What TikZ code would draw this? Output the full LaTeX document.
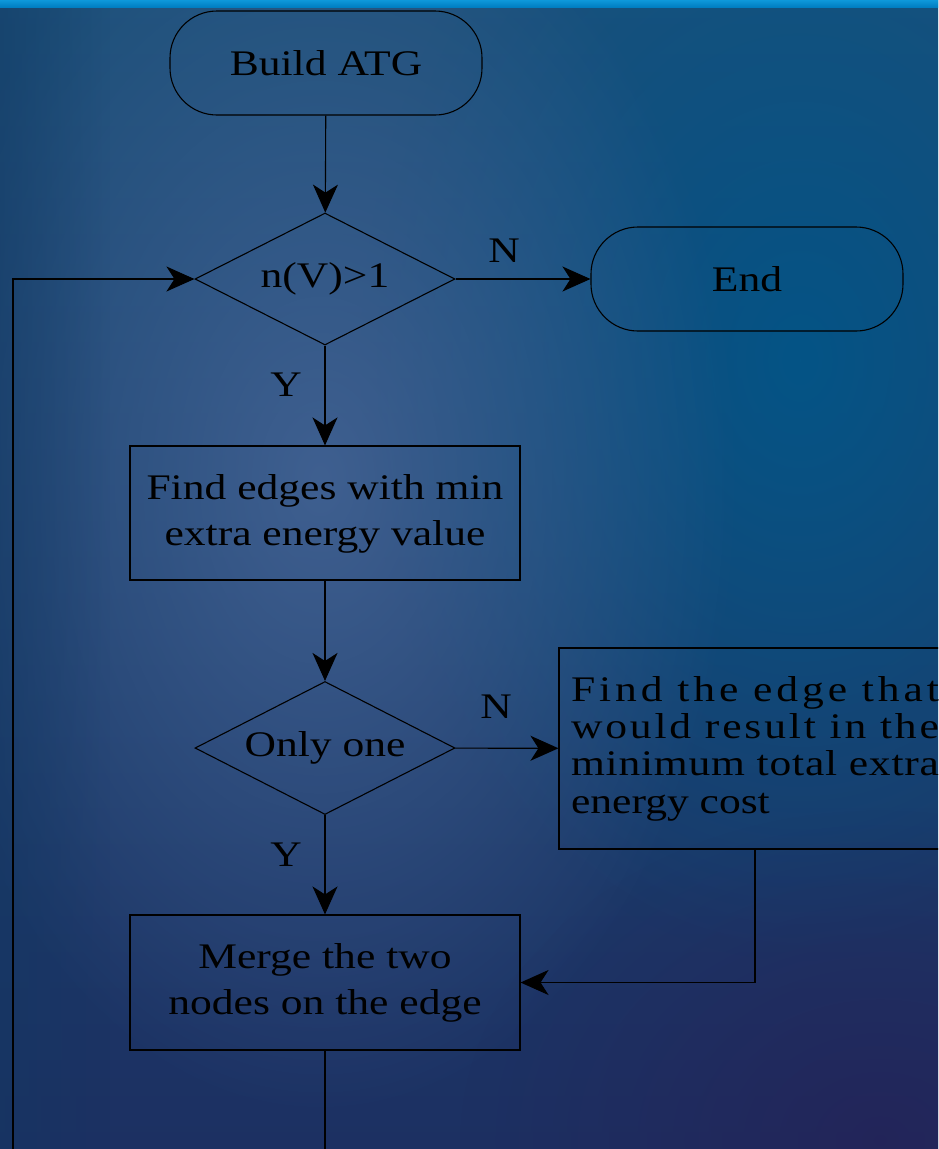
\documentclass[tikz,border=0pt]{standalone}
\usepackage{fontspec}
\setmainfont{Liberation Serif}
\usepackage{graphicx}
\usetikzlibrary{shapes.geometric,arrows.meta,fadings}

% background colours
\definecolor{barA}{RGB}{0,126,194}
\definecolor{barB}{RGB}{14,152,218}
\definecolor{bgTop}{RGB}{28,80,122}
\definecolor{bgBot}{RGB}{28,48,98}
\definecolor{glow}{RGB}{78,108,158}
\definecolor{tealish}{RGB}{4,84,134}
\definecolor{violet}{RGB}{38,32,86}
\definecolor{edgeDark}{RGB}{18,56,98}

\tikzfading[name=soft, inner color=transparent!0, outer color=transparent!100]
\tikzfading[name=softer, inner color=transparent!30, outer color=transparent!100]
\tikzfading[name=leftdark, left color=transparent!55, right color=transparent!100]

% horizontally widened text and letter gap for spread lines
\newcommand\sx[1]{\scalebox{1.21}[1]{#1}}
\newcommand\lsp{\hfil}

\tikzset{
  wire/.style={draw=black, line width=1.1pt},
  arr/.style={wire, -{Stealth[length=28pt,width=25pt,inset=8pt]}},
  term/.style={wire, rectangle, rounded corners=47pt, minimum width=312pt, minimum height=104pt, inner sep=0pt},
  decision/.style={wire, diamond, shape aspect=1.97, minimum width=260pt, minimum height=132pt, inner sep=0pt},
  process/.style={wire, rectangle, minimum width=390pt, minimum height=134pt, inner sep=0pt},
  lbl/.style={inner sep=0pt},
}

\begin{document}
\begin{tikzpicture}[x=1pt, y=-1pt, font=\fontsize{36}{46}\selectfont]
  \useasboundingbox (0,0) rectangle (938,1149);
  \clip (0,0) rectangle (938,1149);

  % backdrop
  \shade[top color=bgTop, bottom color=bgBot] (0,0) rectangle (938,1149);
  \fill[tealish, path fading=soft] (800,360) ellipse [x radius=440, y radius=600];
  \fill[glow, path fading=softer] (320,480) ellipse [x radius=420, y radius=640];
  \fill[violet, path fading=softer] (880,1140) ellipse [x radius=420, y radius=330];
  \fill[edgeDark, path fading=leftdark] (0,0) rectangle (110,1149);
  \shade[top color=barB, bottom color=barA] (0,0) rectangle (938,7);

  % shapes
  \node[term] (start) at (326,63) {\sx{Build ATG}};
  \node[decision] (d1) at (325,279) {\sx{n(V)>1}};
  \node[term] (stop) at (747,279) {\sx{End}};
  \node[process] (b1) at (325,513) {\sx{\begin{tabular}{@{}c@{}}Find edges with min\\extra energy value\end{tabular}}};
  \node[decision, minimum height=133pt] (d2) at (325,748) {\sx{Only one}};
  \node[process, minimum width=392pt, minimum height=201pt] (b3) at (755,748.5) {\sx{\parbox{304pt}{\fontsize{36}{37.3}\selectfont
    \makebox[304pt][s]{F\lsp i\lsp n\lsp d\lsp\ t\lsp h\lsp e\lsp\ e\lsp d\lsp g\lsp e\lsp\ t\lsp h\lsp a\lsp t}\\
    \makebox[304pt][s]{w\lsp o\lsp u\lsp l\lsp d\lsp\ r\lsp e\lsp s\lsp u\lsp l\lsp t\lsp\ i\lsp n\lsp\ t\lsp h\lsp e}\\
    \makebox[304pt][s]{m\lsp i\lsp n\lsp i\lsp m\lsp u\lsp m\lsp\ t\lsp o\lsp t\lsp a\lsp l\lsp\ e\lsp x\lsp t\lsp r\lsp a}\\
    \makebox[304pt][l]{energy cost}}}};
  \node[process, minimum height=135pt] (b2) at (325,982.5) {\sx{\begin{tabular}{@{}c@{}}Merge the two\\nodes on the edge\end{tabular}}};

  % branch labels
  \node[lbl] (n1) at (504,251) {\sx{N}};
  \node[lbl] (y1) at (286,385) {\sx{Y}};
  \node[lbl] (n2) at (496,707) {\sx{N}};
  \node[lbl] (y2) at (286,855) {\sx{Y}};

  % free ends running past the lower border
  \coordinate (below) at (325,1190);
  \coordinate (loopin) at (13,1190);

  % connectors
  \draw[arr] (start) -- (d1);
  \draw[arr] (d1) -- (stop);
  \draw[arr] (d1) -- (b1);
  \draw[arr] (b1) -- (d2);
  \draw[arr] (d2) -- (b3);
  \draw[arr] (d2) -- (b2);
  \draw[arr] (b3.south) |- (b2.east);
  \draw[wire] (b2.south) -- (below);
  \draw[arr] (loopin) |- (d1.west);
\end{tikzpicture}
\end{document}
